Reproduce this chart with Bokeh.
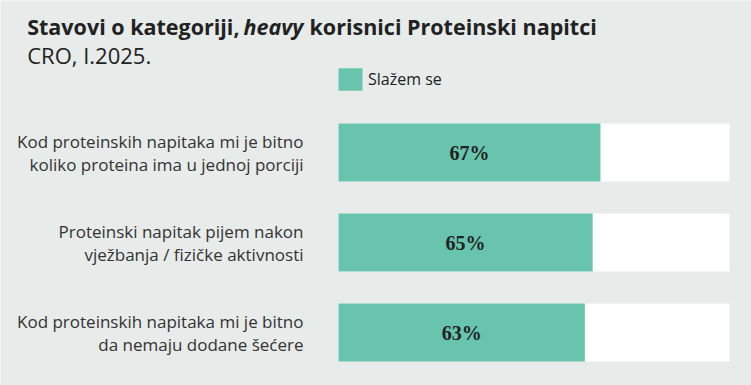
from bokeh.plotting import figure
from bokeh.models import Range1d, Label, Legend, LegendItem
from bokeh.core.properties import value
from bokeh.embed import file_html
from bokeh.resources import INLINE

categories = [
    "Kod proteinskih napitaka mi je bitno\nkoliko proteina ima u jednoj porciji",
    "Proteinski napitak pijem nakon\nvježbanja / fizičke aktivnosti",
    "Kod proteinskih napitaka mi je bitno\nda nemaju dodane šećere",
]
agree = [67, 65, 63]
total = [100, 100, 100]
bar_labels = [f"{v}%" for v in agree]
series_name = "Slažem se"
title_parts = ["Stavovi o kategoriji, ", "heavy", " korisnici Proteinski napitci"]
subtitle = "CRO, I.2025."

BG = "#e7ebea"
GREEN = "#68c4ad"
DARK = "#222222"
FONT = "Open Sans"

W, H = 751, 385
# layout constants (pixels)
X0_PX, X100_PX = 338, 729          # where 0% and 100% fall
ROW0_PX, ROW_STEP_PX = 152, 90     # centre of first row, row spacing
BAR_H_PX = 58

px_per_pct = (X100_PX - X0_PX) / 100
x_range = Range1d(-X0_PX / px_per_pct, (W - X0_PX) / px_per_pct)
# rows: index 0 at top, y grows downwards (flipped range)
y_range = Range1d((H - ROW0_PX) / ROW_STEP_PX, -ROW0_PX / ROW_STEP_PX)

p = figure(width=W, height=H, x_range=x_range, y_range=y_range,
           x_axis_location=None, y_axis_location=None,
           output_backend="svg", toolbar_location=None,
           min_border=0,
           background_fill_color=BG, border_fill_color=BG,
           outline_line_color=None)
p.grid.visible = False

rows = list(range(len(categories)))
bh = BAR_H_PX / ROW_STEP_PX

p.hbar(y=rows, left=0, right=total, height=bh,
       fill_color="white", line_color=None)
green = p.hbar(y=rows, left=0, right=agree, height=bh,
               fill_color=GREEN, line_color=None)
p.text(x=[v / 2 for v in agree], y=rows, text=bar_labels,
       text_align="center", text_baseline="middle",
       text_font=value("Liberation Serif"), text_font_style="bold",
       text_font_size="20px", text_color=DARK)
p.text(x=[0] * len(rows), y=rows, text=categories, x_offset=-35,
       text_align="right", text_baseline="middle",
       text_font=value(FONT), text_font_size="17px",
       text_line_height=1.0, text_color="#333333")

legend = Legend(items=[LegendItem(label=series_name, renderers=[green])],
                location=(335, H - 92.8), orientation="horizontal",
                glyph_width=30, glyph_height=28, label_standoff=3,
                padding=0, margin=0, border_line_color=None,
                background_fill_alpha=0,
                label_text_font=FONT, label_text_font_size="16px",
                label_text_color=DARK)
p.add_layout(legend)

xs = [26.7, 243, 309]
styles = ["bold", "bold italic", "bold"]
for txt, x, st in zip(title_parts, xs, styles):
    p.add_layout(Label(x=x, y=H - 26, x_units="screen", y_units="screen",
                       text=txt, text_font=FONT, text_font_style=st,
                       text_font_size="21.5px", text_color=DARK,
                       text_baseline="alphabetic"))
p.add_layout(Label(x=26.7, y=H - 54.5, x_units="screen", y_units="screen",
                   text=subtitle, text_font=FONT, text_font_style="normal",
                   text_font_size="22px", text_color=DARK,
                   text_baseline="alphabetic"))

open("out.html", "w").write(file_html(p, INLINE))
